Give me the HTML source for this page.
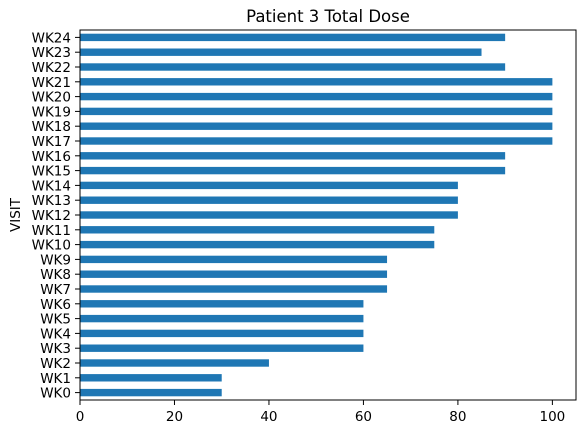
<!DOCTYPE html>
<html><head><meta charset="utf-8"><style>
body{margin:0;background:#fff;}
svg text{font-family:"DejaVu Sans","Liberation Sans",sans-serif;fill:#000;}
</style></head><body>
<svg id="chart" width="585" height="433" xmlns="http://www.w3.org/2000/svg">
<text x="328" y="22" font-size="16.5" text-anchor="middle">Patient 3 Total Dose</text>
<text transform="translate(20,215) rotate(-90)" font-size="13.5" text-anchor="middle">VISIT</text>
<g id="bars"></g><g id="yticks"></g><g id="xticks"></g>
<rect x="80" y="30" width="496" height="370" fill="none" stroke="#000" stroke-width="1"/>
</svg>
<script>
const categories=["WK0","WK1","WK2","WK3","WK4","WK5","WK6","WK7","WK8","WK9","WK10","WK11","WK12","WK13","WK14","WK15","WK16","WK17","WK18","WK19","WK20","WK21","WK22","WK23","WK24"];
const doseValues=[30,30,40,60,60,60,60,65,65,65,75,75,80,80,80,90,90,100,100,100,100,100,90,85,90];
const xTickValues=[0,20,40,60,80,100];
const L=80,R=576,T=30,B=400,xMax=105;
const n=categories.length;
const xs=v=>L+(v/xMax)*(R-L);
const ys=i=>B-(i+0.5)/n*(B-T);
const step=(B-T)/n;
const NS="http://www.w3.org/2000/svg";
const bars=document.getElementById('bars'),yt=document.getElementById('yticks'),xt=document.getElementById('xticks');
categories.forEach((c,i)=>{
 const r=document.createElementNS(NS,'rect');
 r.setAttribute('x',L);r.setAttribute('y',ys(i)-step*0.25);
 r.setAttribute('width',xs(doseValues[i])-L);r.setAttribute('height',step*0.5);
 r.setAttribute('fill','#1f77b4');
 
 
 bars.appendChild(r);
 const l=document.createElementNS(NS,'line');
 l.setAttribute('x1',L-5);l.setAttribute('x2',L);l.setAttribute('y1',ys(i));l.setAttribute('y2',ys(i));l.setAttribute('stroke','#000');
 
 
 yt.appendChild(l);
 const t=document.createElementNS(NS,'text');
 t.setAttribute('x',L-9);t.setAttribute('y',ys(i)+5);t.setAttribute('font-size','13.5');t.setAttribute('text-anchor','end');
 t.textContent=c;
 
 
 yt.appendChild(t);
});
xTickValues.forEach(v=>{
 const l=document.createElementNS(NS,'line');
 l.setAttribute('x1',xs(v));l.setAttribute('x2',xs(v));l.setAttribute('y1',B);l.setAttribute('y2',B+5);l.setAttribute('stroke','#000');
 
 
 xt.appendChild(l);
 const t=document.createElementNS(NS,'text');
 t.setAttribute('x',xs(v));t.setAttribute('y',B+21);t.setAttribute('font-size','13.5');t.setAttribute('text-anchor','middle');
 t.textContent=v;
 
 
 xt.appendChild(t);
});
</script>
</body></html>
